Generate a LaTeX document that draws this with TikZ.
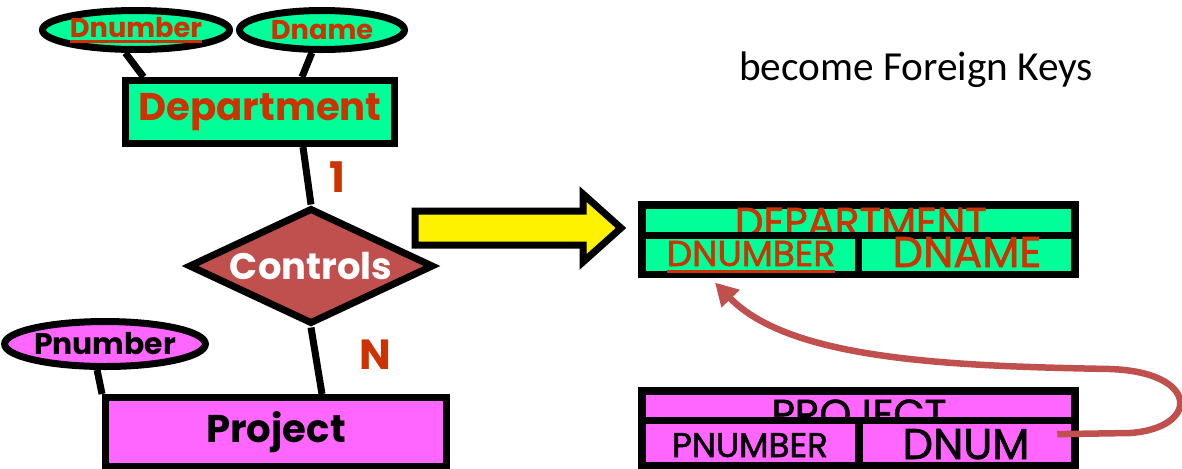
\documentclass[tikz,border=0pt]{standalone}
\usepackage{fontspec}
\setmainfont{Poppins}
\newfontfamily\calibri{Carlito}
\newfontfamily\tabfont[FakeBold=1.5]{Poppins}
\usetikzlibrary{shapes.geometric,arrows.meta}
\definecolor{entgreen}{HTML}{00FF99}
\definecolor{entpink}{HTML}{FF66FF}
\definecolor{keyred}{HTML}{CC3300}
\definecolor{relred}{HTML}{C0504D}
\newcommand{\pkey}[1]{\setbox0=\hbox{#1}\rlap{\rule[-0.2em]{\wd0}{0.1em}}\box0}
\begin{document}
\begin{tikzpicture}[x=0.02cm, y=-0.02cm,
    attr/.style={draw, ellipse, line width=0.14cm, inner sep=0pt, font=\bfseries\fontsize{15.5}{18}\selectfont},
    entity/.style={draw, line width=0.14cm, inner sep=0pt, font=\bfseries\fontsize{22}{26}\selectfont},
    erline/.style={line width=0.14cm},
    card/.style={text=keyred, font=\bfseries\fontsize{24}{28}\selectfont},
    tabtext/.style={anchor=base, inner sep=0pt, font=\tabfont\fontsize{23}{27}\selectfont}]
    \useasboundingbox (0,0) rectangle (1182,468);
    % ER side
    \node(dnum) at (136,30) [attr, fill=entgreen, text=keyred, minimum width=3.3cm, minimum height=0.78cm] {\pkey{Dnumber}};
    \node(dname) at (322,30) [attr, fill=entgreen, text=keyred, minimum width=3.3cm, minimum height=0.78cm] {Dname};
    \node(dept) at (260,112) [entity, fill=entgreen, text=keyred, minimum width=5.38cm, minimum height=1.26cm] {Department};
    \node(ctrl) at (311,266) [draw, diamond, aspect=2.11, line width=0.14cm, inner sep=0pt, fill=relred, text=white, minimum width=4.9cm, minimum height=2.32cm, font=\bfseries\fontsize{21}{25}\selectfont] {Controls};
    \node(pnum) at (105,344) [attr, fill=entpink, minimum width=3.74cm, minimum height=0.9cm, font=\bfseries\fontsize{17}{20}\selectfont] {Pnumber};
    \node(proj) at (276,431.75) [entity, fill=entpink, minimum width=6.82cm, minimum height=1.37cm] {Project};
    \node(one) at (337,177) [card] {1};
    \node(many) at (375,355) [card] {N};
    \draw[erline] (dnum.245) to ([xshift=0.43cm]dept.north west);
    \draw[erline] (dname.246) to ([xshift=0.84cm]dept.north);
    \draw[erline] ([xshift=0.86cm]dept.south) to (ctrl.north);
    \draw[erline] (ctrl.south) to ([xshift=0.92cm]proj.north);
    \draw[erline] (pnum.253) to (proj.north west);
    % big arrow
    \draw[line width=0.14cm, fill=yellow, miter limit=10] (415,211) -- (583,211) -- (583,194) -- (621,228) -- (583,262) -- (583,245) -- (415,245) -- cycle;
    \node(fknote) at (916,70) [font=\calibri\fontsize{23.5}{28}\selectfont] {become Foreign Keys};
    % DEPARTMENT relation
    \fill (638,201) rectangle (1079,278);
    \fill[entgreen] (646,209) rectangle (1071,232);
    \node(deptrel) at (861,236) [tabtext, text=keyred] {DEPARTMENT};
    \fill (638,232) rectangle (1079,278);
    \fill[entgreen] (646,239) rectangle (855,271);
    \fill[entgreen] (862,239) rectangle (1071,271);
    \node(dnumpk) at (751,266) [tabtext, text=keyred, font=\tabfont\fontsize{20.5}{24}\selectfont] {\pkey{DNUMBER}};
    \node(dnamepk) at (967,267) [tabtext, text=keyred, font=\tabfont\fontsize{24.5}{28}\selectfont] {DNAME};
    % PROJECT relation
    \fill (638,387) rectangle (1079,470);
    \fill[entpink] (646,395) rectangle (1071,417);
    \node(projrel) at (859,428) [tabtext] {PROJECT};
    \fill (638,417) rectangle (1079,470);
    \fill[entpink] (646,424) rectangle (855,462);
    \fill[entpink] (863,424) rectangle (1071,462);
    \node(pnumtab) at (750,457) [tabtext, font=\tabfont\fontsize{19.5}{23}\selectfont] {PNUMBER};
    \node(dnumfk) at (966,459) [tabtext, font=\tabfont\fontsize{24.5}{29}\selectfont] {DNUM};
    \draw[relred, line width=0.13cm, -{Triangle[length=0.45cm, width=0.48cm]}] ([xshift=0.55cm, yshift=0.2cm]dnumfk.east) -- (1130,433) .. controls (1200,428) and (1200,372) .. (1110,369) .. controls (950,366) and (790,360) .. ([xshift=-0.72cm, yshift=-0.18cm]dnumpk.south);
\end{tikzpicture}
\end{document}
